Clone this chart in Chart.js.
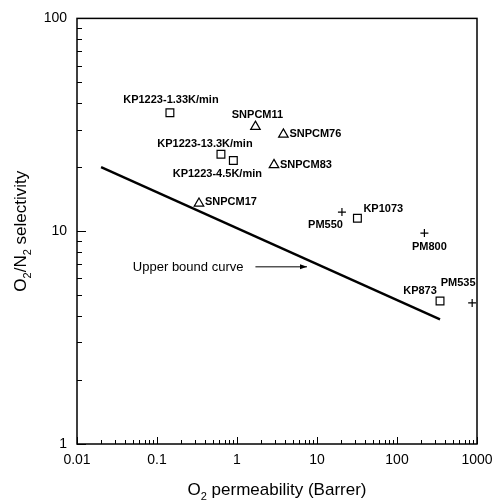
<!DOCTYPE html>
<html lang="en">
<head>
<meta charset="UTF-8">
<title>O2/N2 selectivity vs O2 permeability</title>
<script src="https://cdn.jsdelivr.net/npm/chart.js@4"></script>
<style>
  body { margin: 0; background: #fff; }
  .wrap { position: relative; width: 504px; height: 502px; }
</style>
</head>
<body>
<div class="wrap"><canvas id="chart"></canvas></div>
<script>
// KP series (open squares)
const squareNames = ['KP1223-1.33K/min', 'KP1223-13.3K/min', 'KP1223-4.5K/min', 'KP1073', 'KP873'];
const squareX = [0.145, 0.63, 0.9, 32, 345];
const squareY = [36, 23, 21.5, 11.5, 4.7];

// SNPCM series (open triangles)
const triangleNames = ['SNPCM11', 'SNPCM76', 'SNPCM83', 'SNPCM17'];
const triangleX = [1.7, 3.8, 2.9, 0.335];
const triangleY = [31, 28.5, 20.5, 13.5];

// PM series (plus signs)
const crossNames = ['PM550', 'PM800', 'PM535'];
const crossX = [20.5, 220, 870];
const crossY = [12.3, 9.8, 4.6];

// upper bound line
const boundX = [0.02, 345];
const boundY = [20, 3.85];

// "Upper bound curve" arrow, from/to in data units
const arrowFrom = [1.7, 6.8];
const arrowTo = [7.5, 6.8];

const xTicks = [0.01, 0.1, 1, 10, 100, 1000];
const yTicks = [1, 10, 100];

// label placement: dx, dy, align (pixels, relative to the marker)
const labelPos = {
    'KP1223-1.33K/min': [1, -13, 'center'],
    'KP1223-13.3K/min': [-16, -10, 'center'],
    'KP1223-4.5K/min': [-16, 14, 'center'],
    'KP1073': [6, -9, 'left'],
    'KP873': [-20, -10, 'center'],
    'SNPCM11': [2, -12, 'center'],
    'SNPCM76': [6, 0, 'left'],
    'SNPCM83': [6, 0, 'left'],
    'SNPCM17': [6, -1, 'left'],
    'PM550': [1, 13, 'right'],
    'PM800': [5, 14, 'center'],
    'PM535': [-14, -20, 'center']
};

const FONT = '"Liberation Sans", Arial, sans-serif';

function zip(xs, ys) {
    return xs.map((x, i) => ({ x: x, y: ys[i] }));
}

// draw text made of [text, isSubscript] parts, centred on (x, y)
function drawParts(ctx, parts, x, y, size) {
    const subSize = Math.round(size * 0.65);
    let total = 0;
    parts.forEach(p => {
        ctx.font = (p[1] ? subSize : size) + 'px ' + FONT;
        total += ctx.measureText(p[0]).width;
    });
    let cx = x - total / 2;
    ctx.textAlign = 'left';
    ctx.textBaseline = 'alphabetic';
    parts.forEach(p => {
        ctx.font = (p[1] ? subSize : size) + 'px ' + FONT;
        ctx.fillText(p[0], cx, y + (p[1] ? size * 0.3 : 0));
        cx += ctx.measureText(p[0]).width;
    });
}

const pointLabels = {
    id: 'pointLabels',
    afterDatasetsDraw(chart) {
        const ctx = chart.ctx;
        ctx.save();
        ctx.font = 'bold 11px ' + FONT;
        ctx.fillStyle = '#000';
        ctx.textBaseline = 'middle';
        chart.data.datasets.forEach((ds, i) => {
            if (!ds.names) return;
            chart.getDatasetMeta(i).data.forEach((pt, j) => {
                const name = ds.names[j];
                const p = labelPos[name];
                ctx.textAlign = p[2];
                ctx.fillText(name, pt.x + p[0], pt.y + p[1]);
            });
        });

        // upper bound note + arrow
        const x = chart.scales.x, y = chart.scales.y;
        const x0 = x.getPixelForValue(arrowFrom[0]), y0 = y.getPixelForValue(arrowFrom[1]);
        const x1 = x.getPixelForValue(arrowTo[0]), y1 = y.getPixelForValue(arrowTo[1]);
        ctx.font = '13px ' + FONT;
        ctx.textAlign = 'right';
        ctx.fillText('Upper bound curve', x0 - 12, y0 + 1);
        ctx.strokeStyle = '#000';
        ctx.lineWidth = 1;
        ctx.beginPath();
        ctx.moveTo(x0, y0);
        ctx.lineTo(x1, y1);
        ctx.stroke();
        ctx.beginPath();
        ctx.moveTo(x1, y1);
        ctx.lineTo(x1 - 7, y1 - 2.5);
        ctx.lineTo(x1 - 7, y1 + 2.5);
        ctx.closePath();
        ctx.fill();
        ctx.restore();
    }
};

const frame = {
    id: 'frame',
    afterDraw(chart) {
        const ctx = chart.ctx;
        const a = chart.chartArea;
        const x = chart.scales.x, y = chart.scales.y;
        ctx.save();
        ctx.strokeStyle = '#000';
        ctx.lineWidth = 1.5;
        ctx.strokeRect(a.left, a.top, a.right - a.left, a.bottom - a.top);

        ctx.lineWidth = 1;
        ctx.beginPath();
        // bottom axis, ticks pointing up
        for (let e = Math.log10(x.min); e < Math.log10(x.max) + 0.5; e++) {
            for (let m = 1; m < 10; m++) {
                const v = m * Math.pow(10, e);
                if (v > x.max * 1.0001) break;
                const px = Math.round(x.getPixelForValue(v)) + 0.5;
                const len = m === 1 ? 7 : 4;
                ctx.moveTo(px, a.bottom);
                ctx.lineTo(px, a.bottom - len);
            }
        }
        // left axis, ticks pointing right
        for (let e = Math.log10(y.min); e < Math.log10(y.max) + 0.5; e++) {
            for (let m = 1; m < 10; m++) {
                const v = m * Math.pow(10, e);
                if (v > y.max * 1.0001) break;
                const py = Math.round(y.getPixelForValue(v)) + 0.5;
                const len = m === 1 ? 9 : 5;
                ctx.moveTo(a.left, py);
                ctx.lineTo(a.left + len, py);
            }
        }
        ctx.stroke();

        // axis titles with subscripts
        ctx.fillStyle = '#000';
        drawParts(ctx, [['O', false], ['2', true], [' permeability (Barrer)', false]],
            (a.left + a.right) / 2, 495, 17);
        ctx.translate(26, (a.top + a.bottom) / 2);
        ctx.rotate(-Math.PI / 2);
        drawParts(ctx, [['O', false], ['2', true], ['/N', false], ['2', true], [' selectivity', false]],
            0, 0, 17);
        ctx.restore();
    }
};

const markerStyle = {
    borderColor: '#000',
    backgroundColor: 'rgba(0,0,0,0)',
    borderWidth: 1.2
};

new Chart(document.getElementById('chart'), {
    type: 'scatter',
    data: {
        datasets: [
            {
                data: zip(boundX, boundY),
                showLine: true,
                borderColor: '#000',
                borderWidth: 2.4,
                pointRadius: 0
            },
            Object.assign({ data: zip(squareX, squareY), names: squareNames,
                pointStyle: 'rect', pointRadius: 5.5 }, markerStyle),
            Object.assign({ data: zip(triangleX, triangleY), names: triangleNames,
                pointStyle: 'triangle', pointRadius: 5.5 }, markerStyle),
            Object.assign({ data: zip(crossX, crossY), names: crossNames,
                pointStyle: 'cross', pointRadius: 4 }, markerStyle)
        ]
    },
    options: {
        responsive: true,
        maintainAspectRatio: false,
        animation: false,
        events: [],
        layout: { padding: { top: 14, right: 27, left: 0, bottom: 0 } },
        plugins: {
            legend: { display: false },
            tooltip: { enabled: false }
        },
        scales: {
            x: {
                type: 'logarithmic',
                min: 0.01,
                max: 1000,
                afterFit: s => { s.height = 58; },
                afterBuildTicks: s => { s.ticks = xTicks.map(v => ({ value: v })); },
                grid: { display: false, drawTicks: false },
                border: { display: false },
                ticks: {
                    autoSkip: false,
                    maxRotation: 0,
                    padding: 8,
                    color: '#000',
                    font: { family: FONT, size: 14 },
                    callback: v => String(v)
                }
            },
            y: {
                type: 'logarithmic',
                min: 1,
                max: 100,
                afterFit: s => { s.width = 77; },
                afterBuildTicks: s => { s.ticks = yTicks.map(v => ({ value: v })); },
                grid: { display: false, drawTicks: false },
                border: { display: false },
                ticks: {
                    autoSkip: false,
                    padding: 10,
                    color: '#000',
                    font: { family: FONT, size: 14 },
                    callback: v => String(v)
                }
            }
        }
    },
    plugins: [pointLabels, frame]
});
</script>
</body>
</html>
